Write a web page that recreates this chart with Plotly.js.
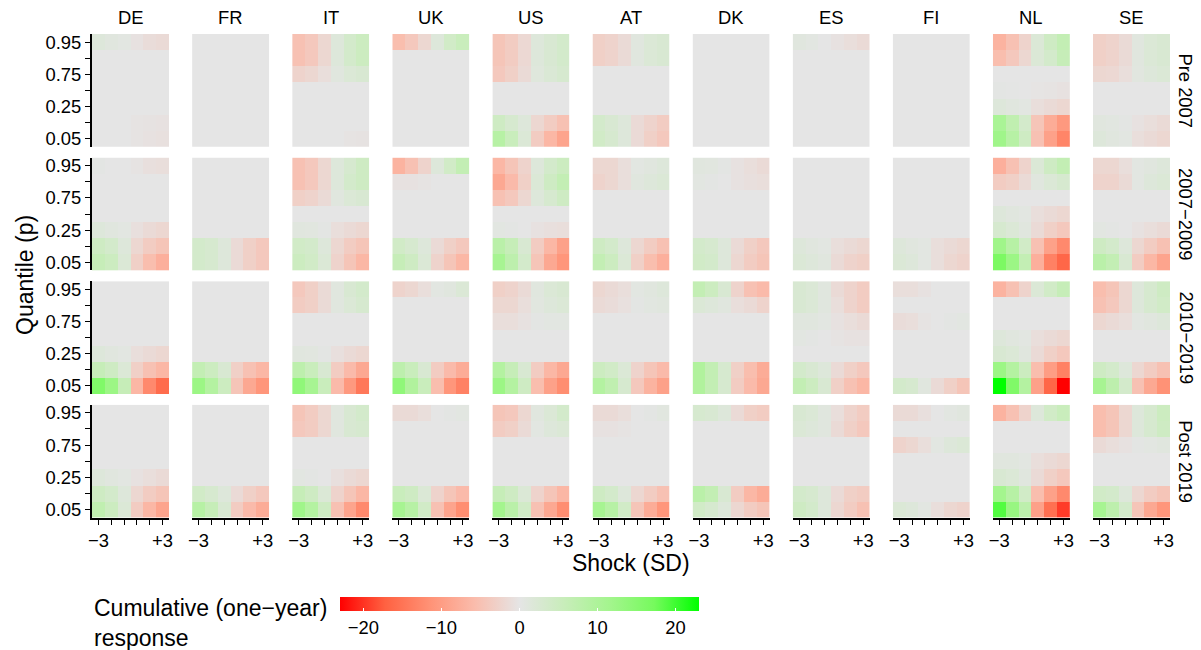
<!DOCTYPE html>
<html><head><meta charset="utf-8">
<script src="https://cdn.plot.ly/plotly-3.0.1.min.js"></script>
<style>body{margin:0;background:#fff}</style>
</head><body>
<div id="chart" style="width:1201px;height:650px"></div>
<script>
const countries = ['DE','FR','IT','UK','US','AT','DK','ES','FI','NL','SE'];
const periods = ['Pre 2007','2007\u22122009','2010\u22122019','Post 2019'];
const shocks = ['\u22123','\u22122','\u22121','+1','+2','+3'];
const quantiles = ['0.05','0.10','0.25','0.50','0.75','0.90','0.95'];

// each panel: rows = quantiles (0.05 .. 0.95), columns = shocks (-3 .. +3)
const zPre2007 = [
 /*DE*/[[0,0,0,-0.3,-0.5,-0.7],[0,0,0,-0.3,-0.4,-0.5],[0,0,0,0,0,0],[0,0,0,0,0,0],[0,0,0,0,0,0],[0,0,0,0,0,0],[1.5,1,0.5,-0.5,-1.2,-1.5]],
 /*FR*/[[0,0,0,0,0,0],[0,0,0,0,0,0],[0,0,0,0,0,0],[0,0,0,0,0,0],[0,0,0,0,0,0],[0,0,0,0,0,0],[0,0,0,0,0,0]],
 /*IT*/[[0,0,0,0,-0.3,-0.4],[0,0,0,0,0,0],[0,0,0,0,0,0],[0,0,0,0,0,0],[-2.5,-2,-1,1,2,2.5],[-5,-4,-2,1.5,3.5,5],[-5,-4,-2,1.5,3.5,5]],
 /*UK*/[[0,0,0,0,0,0],[0,0,0,0,0,0],[0,0,0,0,0,0],[0,0,0,0,0,0],[0,0,0,0,0,0],[0,0,0,0,0,0],[-5.5,-4,-2,1.5,4,5.5]],
 /*US*/[[8.5,5.5,2,-3.5,-6.5,-9],[4.5,3,1.5,-2,-3.5,-5],[0,0,0,0,0,0],[0,0,0,0,0,0],[-4,-3,-1.5,1.2,2.2,3],[-4.5,-3.5,-1.8,1.5,2.5,3.5],[-4.5,-3.5,-1.8,1.5,2.5,3.5]],
 /*AT*/[[4,3,1.5,-1.5,-3,-4],[3.5,2.5,1.5,-1.5,-2.5,-3.5],[0,0,0,0,0,0],[0,0,0,0,0,0],[0,0,0,0,0,0],[-3,-2.5,-1.5,1,2,2.5],[-3,-2.5,-1.5,1,2,2.5]],
 /*DK*/[[0,0,0,0,0,0],[0,0,0,0,0,0],[0,0,0,0,0,0],[0,0,0,0,0,0],[0,0,0,0,0,0],[0,0,0,0,0,0],[0,0,0,0,0,0]],
 /*ES*/[[0,0,0,0,0,0],[0,0,0,0,0,0],[0,0,0,0,0,0],[0,0,0,0,0,0],[0,0,0,0,0,0],[0,0,0,0,0,0],[1,0.5,0,-0.5,-1,-1.5]],
 /*FI*/[[0,0,0,0,0,0],[0,0,0,0,0,0],[0,0,0,0,0,0],[0,0,0,0,0,0],[0,0,0,0,0,0],[0,0,0,0,0,0],[0,0,0,0,0,0]],
 /*NL*/[[12,8.5,4.5,-5,-9.5,-13],[10.5,7,3.5,-4.5,-8,-10.5],[1.5,1,0.5,-1,-1.5,-2],[0.3,0.2,0,-0.2,-0.3,-0.5],[0,0,0,0,0,0],[-5.5,-4,-2,2,3.5,6],[-7,-5,-2.5,2,4.5,6.5]],
 /*SE*/[[1.5,1,0.5,-1,-1.5,-2],[1,0.7,0.3,-0.5,-1,-1.5],[0,0,0,0,0,0],[0,0,0,0,0,0],[-2,-1.8,-1,0.8,1.5,2],[-3,-2.5,-1.5,1,2,2.5],[-3,-2.5,-1.5,1,2,2.5]]
];
const z2007to2009 = [
 /*DE*/[[6,5,2,-3,-5.5,-7.5],[4.5,3.5,1.5,-2,-3.5,-4.5],[1.5,1,0.5,-0.8,-1.5,-2],[0,0,0,0,0,0],[0,0,0,0,0,0],[0,0,0,0,0,0],[0.3,0,0,-0.3,-0.8,-1]],
 /*FR*/[[3.5,3,1.5,-1.5,-3,-4],[3.5,3,1.5,-1.5,-3,-4],[0,0,0,0,0,0],[0,0,0,0,0,0],[0,0,0,0,0,0],[0,0,0,0,0,0],[0,0,0,0,0,0]],
 /*IT*/[[5,4,2,-2.5,-4.5,-6.5],[4,3.5,1.5,-2,-3.5,-4.5],[1,0.8,0.3,-1,-1.5,-2],[0,0,0,0,0,0],[-3,-2.5,-1.5,1,2,2.5],[-5,-4,-2,1.5,3.5,4.5],[-5,-4,-2,1.5,3,4.5]],
 /*UK*/[[6,4.5,2,-2.5,-4.5,-6.5],[4,3,1.5,-1.5,-3,-4],[0,0,0,0,0,0],[0,0,0,0,0,0],[0,0,0,0,0,0],[-0.5,-0.5,-0.3,0,0,0],[-7,-5,-2.5,1.5,4,6.5]],
 /*US*/[[11,7.5,3.5,-4.5,-8.5,-11],[8,6,2.5,-3.5,-6.5,-9.5],[0.5,0.3,0,-0.5,-0.8,-1],[0,0,0,0,0,0],[-5,-4,-2,1.5,3,4.5],[-8.5,-6,-3,2,4.5,6.5],[-6.5,-4.5,-2.5,1.5,3.5,5]],
 /*AT*/[[6.5,5,2,-3,-5.5,-7.5],[4.5,3.5,1.5,-2,-3.5,-5],[0,0,0,0,0,0],[0,0,0,0,0,0],[0,0,0,0,0,0],[-2.5,-2,-1,1,1.5,2],[-2,-2,-1,0.5,1,1.5]],
 /*DK*/[[4,3.5,1.5,-2,-3.5,-4.5],[3.5,3,1.5,-1.5,-3,-4],[0,0,0,0,0,0],[0,0,0,0,0,0],[0,0,0,0,0,0],[0.5,0.3,0,-0.5,-0.8,-1],[1,0.8,0.3,-0.5,-1,-1.5]],
 /*ES*/[[2,1.5,1,-1.5,-2.5,-3],[1.5,1,0.5,-1,-1.5,-2],[0,0,0,0,0,0],[0,0,0,0,0,0],[0,0,0,0,0,0],[0,0,0,0,0,0],[0,0,0,0,0,0]],
 /*FI*/[[2,1.5,0.5,-1,-2,-2.5],[1.5,1,0.5,-1,-1.5,-2],[0,0,0,0,0,0],[0,0,0,0,0,0],[0,0,0,0,0,0],[0,0,0,0,0,0],[0,0,0,0,0,0]],
 /*NL*/[[16.5,12.5,6.5,-7.5,-13.5,-16.5],[12,8.5,4,-5,-9.5,-12.5],[3,2,1,-1.5,-3,-4],[1.5,1,0.5,-1,-1.5,-2],[0,0,0,0,0,0],[-3.5,-3,-1.5,1,2,3],[-7.5,-5,-2.5,2,4.5,6.5]],
 /*SE*/[[8,6.5,2.5,-3.5,-6.5,-9],[4.5,3.5,1.5,-2,-3.5,-5],[0.5,0.3,0,-0.5,-1,-1.5],[0,0,0,0,0,0],[0,0,0,0,0,0],[-2.5,-2.5,-1.5,0.5,1.5,2],[-2,-2,-1,0.5,1,1.5]]
];
const z2010to2019 = [
 /*DE*/[[16,12.5,6,-6.5,-12.5,-16],[6,4.5,2,-3,-5,-6.5],[1.5,1,0.5,-1,-1.5,-2],[0,0,0,0,0,0],[0,0,0,0,0,0],[0,0,0,0,0,0],[0,0,0,0,0,0]],
 /*FR*/[[12.5,9,5,-4.5,-8.5,-11],[6.5,5,2.5,-3,-5,-6.5],[0,0,0,0,0,0],[0,0,0,0,0,0],[0,0,0,0,0,0],[0,0,0,0,0,0],[0,0,0,0,0,0]],
 /*IT*/[[14,11,5.5,-6,-10.5,-14.5],[7.5,5.5,2.5,-3.5,-6,-8.5],[1,0.8,0.3,-0.8,-1.5,-2],[0,0,0,0,0,0],[0,0,0,0,0,0],[-3.5,-3,-1.5,1,2,3],[-4,-3,-1.5,1,2.5,3.5]],
 /*UK*/[[14,9.5,5.5,-5.5,-11,-13.5],[7.5,5.5,2.5,-3.5,-6,-8],[0,0,0,0,0,0],[0,0,0,0,0,0],[0,0,0,0,0,0],[0,0,0,0,0,0],[-2.5,-2,-1,0.5,1,2]],
 /*US*/[[12.5,9,4.5,-5.5,-9.5,-12],[9,6,2.5,-3.5,-6.5,-8.5],[0,0,0,0,0,0],[0,0,0,0,0,0],[-1,-1,-0.5,0.3,0.5,0.5],[-2,-2,-1,0.8,1.5,2],[-3,-2.5,-1.5,1,2,2.5]],
 /*AT*/[[9,7,3,-4,-7,-9.5],[5,4,2,-2.5,-4.5,-6],[0,0,0,0,0,0],[0,0,0,0,0,0],[0,0,0,0,0,0],[-1.5,-1.2,-0.7,0.3,0.7,1],[-2,-1.5,-1,0.5,1,1.5]],
 /*DK*/[[9.5,6.5,3,-3.5,-6,-8.5],[9.5,6.5,3,-3,-5.5,-8],[0,0,0,0,0,0],[0,0,0,0,0,0],[0,0,0,0,0,0],[2,1.5,1,-1,-1.5,-2.5],[6.5,5,2.5,-2.5,-5,-6]],
 /*ES*/[[6.5,5,2.5,-3,-5,-6.5],[3.5,2.5,1.5,-1.5,-3,-4],[0,0,0,0,0,0],[0.5,0.3,0,-0.3,-0.5,-0.5],[1,1,0.5,-0.5,-1,-1.5],[2.5,2,1,-1,-2.5,-3.5],[2.5,2,1,-1.5,-2.5,-3.5]],
 /*FI*/[[3.5,3,1,-1.5,-3,-4.5],[0,0,0,0,0,0],[0,0,0,0,0,0],[0,0,0,0,0,0],[-1.2,-1,-0.3,0,0.3,0.5],[0,0,0,0,0,0],[-1,-1,-0.5,0,0,0]],
 /*NL*/[[23,16,9,-9.5,-16.5,-23],[12.5,9,5,-5.5,-10,-13.5],[2.5,2,1,-1.5,-3,-4],[1.5,1,0.5,-1,-1.5,-2],[0,0,0,0,0,0],[0,0,0,0,0,0],[-7,-5,-2.5,2,4,6]],
 /*SE*/[[11,7.5,3.5,-5,-8.5,-11.5],[4.5,3.5,1.5,-2,-3.5,-5],[0,0,0,0,0,0],[0,0,0,0,0,0],[-2,-1.5,-1,0.5,1,1.5],[-5,-4,-2,1.5,3,4],[-5.5,-4.5,-2,1.5,3,4.5]]
];
const zPost2019 = [
 /*DE*/[[7,5,2,-3.5,-6.5,-9],[4.5,3.5,1.5,-2,-3.5,-4.5],[1.5,1,0.5,-0.5,-1,-1.5],[0,0,0,0,0,0],[0,0,0,0,0,0],[0,0,0,0,0,0],[0,0,0,0,0,0]],
 /*FR*/[[8.5,6,2.5,-3.5,-6,-8],[4,3,1.5,-1.5,-3,-4],[0,0,0,0,0,0],[0,0,0,0,0,0],[0,0,0,0,0,0],[0,0,0,0,0,0],[0,0,0,0,0,0]],
 /*IT*/[[12,9,4.5,-5,-9,-12.5],[6,4.5,2,-2.5,-4.5,-6.5],[0.5,0.3,0,-0.8,-1.5,-2],[0,0,0,0,0,0],[0,0,0,0,0,0],[-4,-3.5,-2,1,2.5,3],[-4.5,-3.5,-2,1,2.5,3.5]],
 /*UK*/[[11,8.5,4,-5,-9,-12],[5.5,4.5,2,-2.5,-4.5,-6],[0,0,0,0,0,0],[0,0,0,0,0,0],[0,0,0,0,0,0],[0,0,0,0,0,0],[-1.5,-1.5,-1,0,0.3,0.5]],
 /*US*/[[11.5,8,4,-5,-8.5,-12],[6,4.5,2,-2.5,-4.5,-6.5],[0,0,0,0,0,0],[0,0,0,0,0,0],[0,0,0,0,0,0],[-3.5,-3,-1.5,0.5,1.5,2],[-4.5,-4,-2,1,2,3.5]],
 /*AT*/[[11,8.5,4,-4.5,-8,-11],[4.5,3.5,1.5,-2,-3.5,-5],[0,0,0,0,0,0],[0,0,0,0,0,0],[0,0,0,0,0,0],[-0.5,-0.5,-0.3,0,0,0],[-1.5,-1.5,-1,0,0.3,0.8]],
 /*DK*/[[4,3,1.5,-2,-3.5,-4.5],[8,6.5,2.5,-3.5,-6.5,-8],[0,0,0,0,0,0],[0,0,0,0,0,0],[0,0,0,0,0,0],[0,0,0,0,0,0],[3,2.5,1.5,-1.5,-3,-3.5]],
 /*ES*/[[4.5,3.5,1.5,-2,-3.5,-5],[3.5,3,1.5,-1.5,-3,-3.5],[0,0,0,0,0,0],[0,0,0,0,0,0],[0,0,0,0,0,0],[2,1.5,1,-1.5,-3,-4],[2.5,2,1,-1,-2.5,-3.5]],
 /*FI*/[[2,1.5,0.5,-1,-2,-2.5],[0,0,0,0,0,0],[0,0,0,0,0,0],[0,0,0,0,0,0],[-2.5,-2,-1,0.5,1.5,2],[0,0,0,0,0,0],[-1.5,-1.5,-0.8,0,0.5,1]],
 /*NL*/[[19,13,7.5,-9.5,-15.5,-19.5],[11.5,8.5,4,-5.5,-9.5,-12.5],[2.5,2,1,-1.5,-3,-4],[1,1,0.5,-1,-1.5,-2],[0,0,0,0,0,0],[0,0,0,0,0,0],[-7,-5,-2.5,1.5,4,5.5]],
 /*SE*/[[11,7.5,3.5,-4.5,-8.5,-11],[4,3.5,1.5,-2,-3.5,-4.5],[0,0,0,0,0,0],[0,0,0,0,0,0],[-1.5,-1,-0.5,0.3,0.5,1],[-5.5,-4.5,-2,1.5,3,4.5],[-5.5,-4.5,-2,1.5,3,5]]
];
const periodPanels = [zPre2007, z2007to2009, z2010to2019, zPost2019];
const colorbarTicks = [-20,-10,0,10,20];
const colorbarTickText = ['\u221220','\u221210','0','10','20'];
const fillLimit = 23;

// ---------- layout geometry (pixels) ----------
const W = 1201, H = 650;
const FONT = 'Liberation Sans, Arial, Helvetica, sans-serif';
const SMALL = 18.4, BIG = 23;
const col0 = 92, colStep = 100.1, colW = 77;
const row0 = 34, rowStep = 123.6, rowH = 112.8;
const px = v => v / W;
const py = v => 1 - v / H;

const traces = [];
const layout = {
  width: W, height: H,
  margin: {l:0, r:0, t:0, b:0},
  paper_bgcolor: '#fff', plot_bgcolor: '#fff',
  showlegend: false,
  font: {family: FONT, color: '#000', size: SMALL},
  coloraxis: {
    cmin: -fillLimit, cmax: fillLimit,
    colorscale: [
      [0, 'rgb(255,0,0)'], [0.125, 'rgb(255,97,65)'], [0.25, 'rgb(255,146,118)'],
      [0.375, 'rgb(250,188,172)'], [0.5, 'rgb(229,229,229)'], [0.625, 'rgb(200,237,186)'],
      [0.75, 'rgb(164,245,142)'], [0.875, 'rgb(118,250,93)'], [1, 'rgb(0,255,0)']
    ],
    colorbar: {
      orientation: 'h',
      x: px(519.5), xanchor: 'center',
      y: py(597), yanchor: 'top',
      len: 359, lenmode: 'pixels',
      thickness: 14, thicknessmode: 'pixels',
      outlinewidth: 0, xpad: 0, ypad: 0,
      tickmode: 'array', tickvals: colorbarTicks, ticktext: colorbarTickText,
      ticks: 'inside', ticklen: 3, tickcolor: '#fff', tickwidth: 1,
      tickfont: {size: SMALL, family: FONT, color: '#000'}
    }
  },
  annotations: []
};

const nC = countries.length, nR = periods.length;
for (let c = 0; c < nC; c++) {
  const key = 'xaxis' + (c === 0 ? '' : c + 1);
  const l = col0 + c * colStep;
  layout[key] = {
    domain: [px(l), px(l + colW)],
    anchor: 'y' + nR,
    type: 'category', categoryorder: 'array', categoryarray: shocks,
    range: [-0.5, shocks.length - 0.5],
    tickmode: 'array', tickvals: shocks,
    ticktext: shocks.map((s, i) => (i === 0 || i === shocks.length - 1) ? s : ''),
    ticks: 'outside', ticklen: 5, tickwidth: 1.3, tickcolor: '#000',
    showline: true, linecolor: '#000', linewidth: 2,
    showgrid: false, zeroline: false,
    tickfont: {size: SMALL, family: FONT, color: '#000'},
    fixedrange: true
  };
  layout.annotations.push({
    xref: 'paper', yref: 'paper', x: px(l + colW / 2), y: py(17),
    text: countries[c], showarrow: false, xanchor: 'center', yanchor: 'middle',
    font: {size: SMALL, family: FONT, color: '#000'}
  });
}
for (let r = 0; r < nR; r++) {
  const key = 'yaxis' + (r === 0 ? '' : r + 1);
  const t = row0 + r * rowStep;
  layout[key] = {
    domain: [py(t + rowH), py(t)],
    anchor: 'x',
    type: 'category', categoryorder: 'array', categoryarray: quantiles,
    range: [-0.5, quantiles.length - 0.5],
    tickmode: 'array', tickvals: quantiles,
    ticktext: quantiles.map((q, i) => i % 2 === 0 ? q : ''),
    ticks: 'outside', ticklen: 5, tickwidth: 1.3, tickcolor: '#000',
    showline: true, linecolor: '#000', linewidth: 2,
    showgrid: false, zeroline: false,
    tickfont: {size: SMALL, family: FONT, color: '#000'},
    fixedrange: true
  };
  layout.annotations.push({
    xref: 'paper', yref: 'paper', x: px(1186), y: py(t + rowH / 2),
    text: periods[r], showarrow: false, textangle: 90,
    xanchor: 'center', yanchor: 'middle',
    font: {size: SMALL, family: FONT, color: '#000'}
  });
  for (let c = 0; c < nC; c++) {
    traces.push({
      type: 'heatmap',
      x: shocks, y: quantiles,
      z: periodPanels[r][c],
      xaxis: 'x' + (c === 0 ? '' : c + 1),
      yaxis: 'y' + (r === 0 ? '' : r + 1),
      coloraxis: 'coloraxis',
      hovertemplate: countries[c] + ' ' + periods[r] + '<br>shock %{x}, p=%{y}: %{z}<extra></extra>'
    });
  }
}

layout.annotations.push(
  {xref:'paper', yref:'paper', x: px(25), y: py(275), text: 'Quantile (p)', textangle: -90,
   showarrow:false, xanchor:'center', yanchor:'middle', font:{size:BIG, family:FONT, color:'#000'}},
  {xref:'paper', yref:'paper', x: px(631), y: py(563), text: 'Shock (SD)',
   showarrow:false, xanchor:'center', yanchor:'middle', font:{size:BIG, family:FONT, color:'#000'}},
  {xref:'paper', yref:'paper', x: px(92), y: py(622.5), text: 'Cumulative (one\u2212year)<br>response',
   showarrow:false, xanchor:'left', yanchor:'middle', align:'left',
   font:{size:BIG, family:FONT, color:'#000'}}
);

Plotly.newPlot('chart', traces, layout, {displayModeBar: false});
</script>
</body></html>
